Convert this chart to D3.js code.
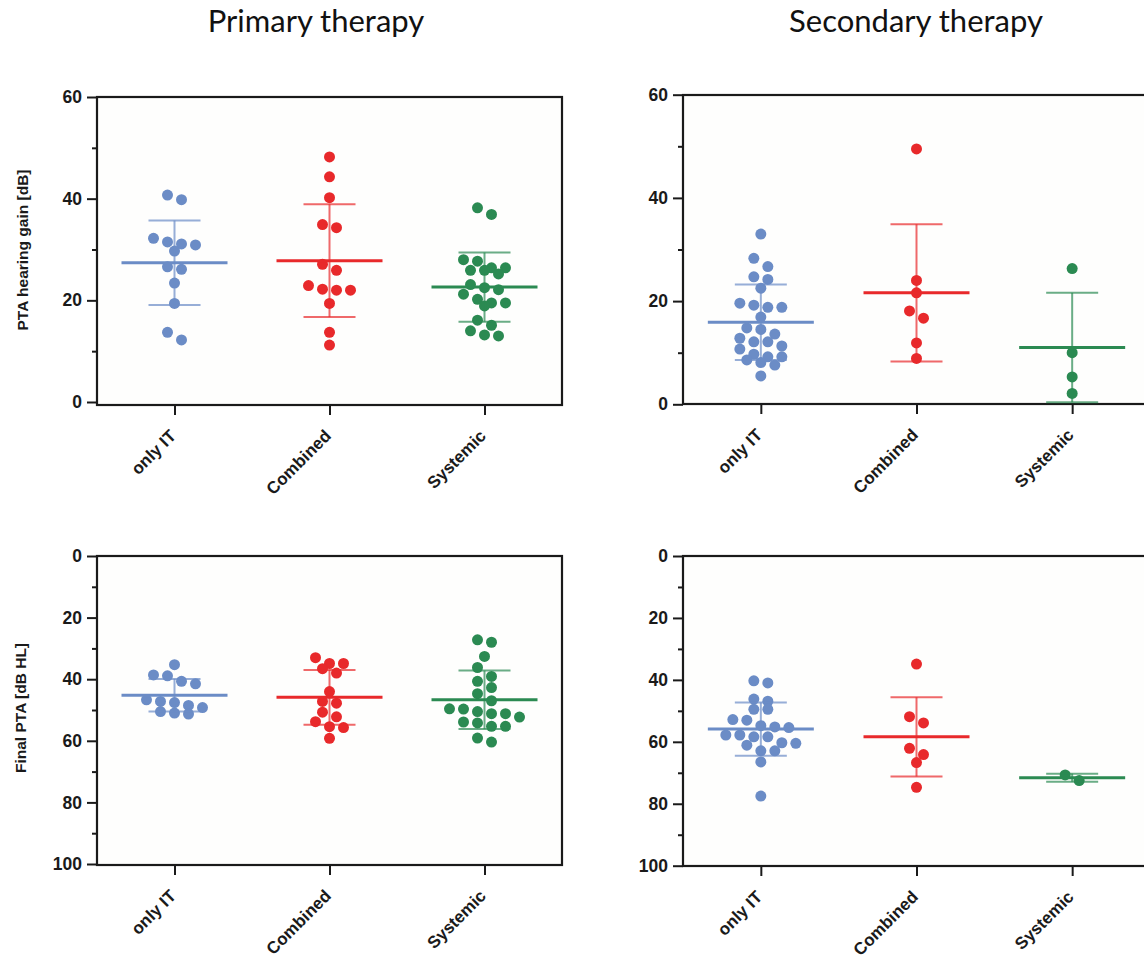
<!DOCTYPE html>
<html>
<head>
<meta charset="utf-8">
<script src="https://cdn.jsdelivr.net/npm/d3@7/dist/d3.min.js"></script>
<style>
body { margin:0; background:#fff; }
svg { display:block; font-family:"Liberation Sans", Arial, sans-serif; }
</style>
</head>
<body>
<svg id="chart"></svg>
<script>
var groups = ["only IT", "Combined", "Systemic"];
var colors = ["#6b8cc6", "#e8292b", "#2b8a52"];

// PTA hearing gain [dB], primary therapy
var gainPrimaryIT = [40.7, 39.8, 32.2, 31.1, 30.9, 31.5, 29.7, 26.6, 26.1, 23.4, 19.4, 13.7, 12.2];
var gainPrimaryComb = [48.2, 44.3, 40.2, 34.3, 34.9, 27.1, 25.9, 22.0, 22.2, 22.9, 22.0, 19.4, 13.7, 11.2];
var gainPrimarySys = [38.2, 36.9, 28.0, 27.7, 26.4, 25.9, 25.9, 26.4, 25.2, 22.5, 22.1, 23.1, 20.2, 21.2, 19.5, 18.9, 19.5, 16.1, 15.1, 14.0, 13.0, 13.2];
var gainPrimaryMean = [27.4, 27.8, 22.6];
var gainPrimarySD = [8.3, 11.1, 6.8];

// PTA hearing gain [dB], secondary therapy
var gainSecondaryIT = [33.0, 28.3, 26.7, 24.2, 24.7, 22.5, 19.2, 18.8, 18.8, 19.6, 16.9, 14.8, 14.5, 13.6, 12.1, 11.3, 12.1, 12.8, 10.7, 9.7, 9.2, 8.1, 8.6, 9.2, 7.6, 5.5];
var gainSecondaryComb = [49.5, 24.0, 21.6, 18.1, 16.7, 11.9, 8.9];
var gainSecondarySys = [26.3, 10.0, 5.3, 2.1];
var gainSecondaryMean = [15.9, 21.6, 11.0];
var gainSecondarySD = [7.3, 13.3, 10.6];

// Final PTA [dB HL], primary therapy
var finalPrimaryIT = [35.3, 38.6, 38.9, 40.7, 41.5, 47.2, 46.7, 48.5, 47.6, 49.2, 50.5, 51.3, 51.0];
var finalPrimaryComb = [33.0, 34.9, 34.9, 36.6, 38.0, 44.0, 47.8, 47.2, 50.7, 52.2, 53.8, 55.4, 55.7, 59.2];
var finalPrimarySys = [28.0, 27.2, 32.6, 36.2, 39.1, 40.7, 42.7, 44.7, 47.0, 51.2, 49.6, 50.5, 49.7, 51.2, 53.9, 52.3, 55.3, 55.3, 54.2, 60.4, 59.1];
var finalPrimaryMean = [45.2, 45.9, 46.7];
var finalPrimarySD = [5.3, 8.9, 9.5];

// Final PTA [dB HL], secondary therapy
var finalSecondaryIT = [40.3, 41.0, 46.9, 46.2, 49.5, 49.5, 53.0, 52.8, 55.4, 55.2, 54.8, 57.8, 58.4, 58.4, 57.8, 60.3, 61.1, 60.5, 62.9, 62.9, 66.5, 77.5];
var finalSecondaryComb = [34.9, 53.9, 51.9, 64.1, 62.1, 66.7, 74.7];
var finalSecondarySys = [72.5, 70.7];
var finalSecondaryMean = [55.9, 58.4, 71.6];
var finalSecondarySD = [8.6, 12.8, 1.3];

var gainTicks = [0, 20, 40, 60], gainMinor = [10, 30, 50];
var finalTicks = [0, 20, 40, 60, 80, 100], finalMinor = [10, 30, 50, 70, 90];

var width = 1144, height = 961;
var svg = d3.select("#chart").attr("width", width).attr("height", height);

var panels = [
  {left:97, top:97, w:465, h:308, domain:[0,60], range:[402,97], ticks:gainTicks, minor:gainMinor,
   data:[gainPrimaryIT, gainPrimaryComb, gainPrimarySys], mean:gainPrimaryMean, sd:gainPrimarySD},
  {left:683, top:95, w:467, h:309, domain:[0,60], range:[404.3,94.7], ticks:gainTicks, minor:gainMinor,
   data:[gainSecondaryIT, gainSecondaryComb, gainSecondarySys], mean:gainSecondaryMean, sd:gainSecondarySD},
  {left:97, top:556, w:465, h:309, domain:[0,100], range:[556,864], ticks:finalTicks, minor:finalMinor,
   data:[finalPrimaryIT, finalPrimaryComb, finalPrimarySys], mean:finalPrimaryMean, sd:finalPrimarySD},
  {left:683, top:556, w:467, h:310, domain:[0,100], range:[556,865.7], ticks:finalTicks, minor:finalMinor,
   data:[finalSecondaryIT, finalSecondaryComb, finalSecondarySys], mean:finalSecondaryMean, sd:finalSecondarySD}
];

// prism-like scatter: points close in value share a row and are spread sideways
function swarm(vals, y, step, bin) {
  var pts = vals.map(function(v){ return {v:v, py:y(v)}; });
  pts.sort(function(a,b){ return a.py - b.py; });
  var rows = [], cur = null;
  pts.forEach(function(p){
    if (cur && p.py - cur[0].py < bin) cur.push(p);
    else { cur = [p]; rows.push(cur); }
  });
  rows.forEach(function(r){
    r.forEach(function(p,i){ p.dx = (i - (r.length-1)/2) * step; });
  });
  return pts;
}

panels.forEach(function(p){
  var x = d3.scalePoint().domain(groups).range([p.left, p.left + p.w]).padding(0.5);
  var y = d3.scaleLinear().domain(p.domain).range(p.range);
  var g = svg.append("g");

  g.append("rect").attr("x", p.left).attr("y", p.top).attr("width", p.w).attr("height", p.h)
    .attr("fill", "#fefefd");

  // minor ticks
  var yMinor = g.append("g").attr("transform", "translate(" + p.left + ",0)")
    .call(d3.axisLeft(y).tickValues(p.minor).tickSize(5).tickFormat(""));
  var yAx = g.append("g").attr("transform", "translate(" + p.left + ",0)")
    .call(d3.axisLeft(y).tickValues(p.ticks).tickSize(10).tickPadding(5));
  [yMinor, yAx].forEach(function(a){
    a.select(".domain").remove();
    a.selectAll("line").attr("stroke", "#1a1a1a").attr("stroke-width", 2);
  });
  yAx.selectAll("text").attr("font-size", 17.5).attr("font-weight", "bold").attr("fill", "#1a1a1a");

  var xAx = g.append("g").attr("transform", "translate(0," + (p.top + p.h) + ")")
    .call(d3.axisBottom(x).tickSize(10));
  xAx.select(".domain").remove();
  xAx.selectAll("line").attr("stroke", "#1a1a1a").attr("stroke-width", 2);
  xAx.selectAll("text")
    .attr("font-size", 17).attr("font-weight", "bold").attr("fill", "#1a1a1a")
    .attr("x", 0).attr("y", 0).attr("dy", 0)
    .attr("text-anchor", "end")
    .attr("transform", "translate(2,32) rotate(-45)");

  g.append("rect").attr("x", p.left).attr("y", p.top).attr("width", p.w).attr("height", p.h)
    .attr("fill", "none").attr("stroke", "#1a1a1a").attr("stroke-width", 2.2);

  groups.forEach(function(name, i){
    var cx = x(name), col = colors[i];
    var pts = swarm(p.data[i], y, 14, 9);
    g.append("g").selectAll("circle").data(pts).enter().append("circle")
      .attr("cx", function(d){ return cx + d.dx; })
      .attr("cy", function(d){ return d.py; })
      .attr("r", 5.5)
      .attr("fill", col);

    var m = p.mean[i], s = p.sd[i];
    var eb = g.append("g").attr("stroke", col);
    eb.append("line").attr("x1", cx).attr("x2", cx).attr("y1", y(m - s)).attr("y2", y(m + s))
      .attr("stroke-width", 2).attr("stroke-opacity", 0.7);
    [m - s, m + s].forEach(function(v){
      eb.append("line").attr("x1", cx - 26).attr("x2", cx + 26).attr("y1", y(v)).attr("y2", y(v))
        .attr("stroke-width", 2).attr("stroke-opacity", 0.7);
    });
    eb.append("line").attr("x1", cx - 53).attr("x2", cx + 53).attr("y1", y(m)).attr("y2", y(m))
      .attr("stroke-width", 3);
  });
});

// column titles
svg.append("text").attr("x", 316).attr("y", 32).attr("text-anchor", "middle")
  .attr("font-family", "Lato").attr("font-size", 31).attr("fill", "#111").text("Primary therapy");
svg.append("text").attr("x", 916).attr("y", 32).attr("text-anchor", "middle")
  .attr("font-family", "Lato").attr("font-size", 31).attr("fill", "#111").text("Secondary therapy");

// y axis titles
svg.append("text").attr("transform", "translate(28,250) rotate(-90)").attr("text-anchor", "middle")
  .attr("font-size", 15.5).attr("font-weight", "bold").attr("fill", "#1a1a1a").text("PTA hearing gain [dB]");
svg.append("text").attr("transform", "translate(26,708) rotate(-90)").attr("text-anchor", "middle")
  .attr("font-size", 15.5).attr("font-weight", "bold").attr("fill", "#1a1a1a").text("Final PTA [dB HL]");
</script>
</body>
</html>
